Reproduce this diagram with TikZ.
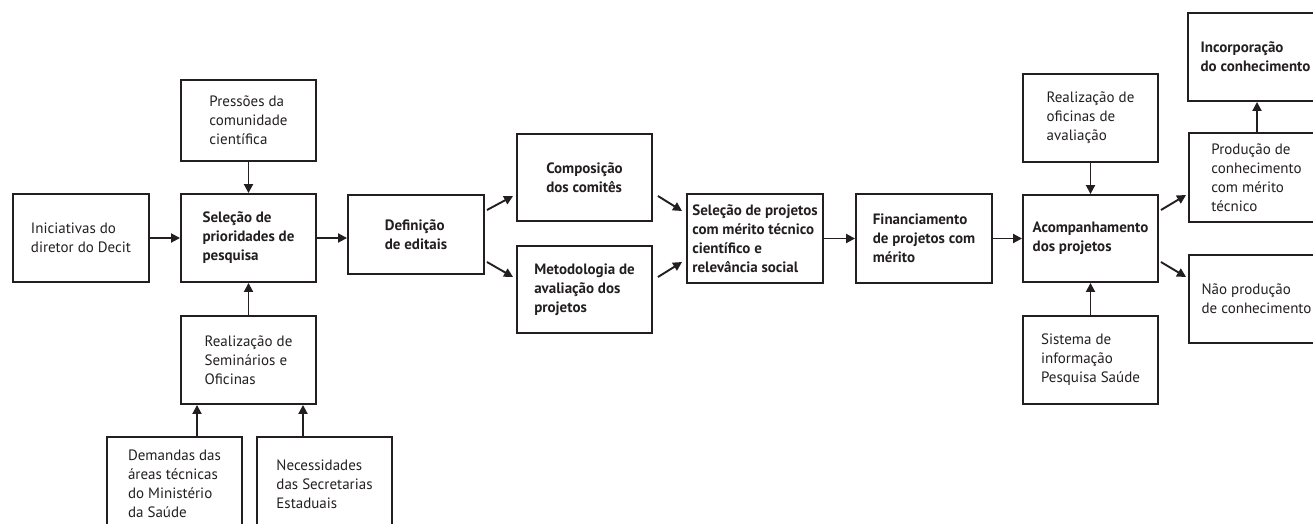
\documentclass[tikz,border=0pt]{standalone}
\usepackage{fontspec}
\setmainfont{PT Sans}
\usetikzlibrary{arrows.meta,calc}
\definecolor{ink}{HTML}{231F20}
\tikzset{
  box/.style={draw=ink, line width=1.9pt, minimum width=135pt, minimum height=88pt,
    align=left, inner sep=0pt, text=ink, font=\fontsize{15}{19}\selectfont},
  bbox/.style={box, font=\fontsize{15}{19}\selectfont\bfseries},
  arr/.style={draw=ink, line width=1.9pt, -{Triangle[length=9pt,width=9pt]}}
}
\begin{document}
\begin{tikzpicture}[x=1pt,y=-1pt]
\useasboundingbox (0,0) rectangle (1313,523);
\clip (0,0) rectangle (1313,523);
% left cluster
\node[box, minimum height=81pt] (pres) at (248.5,120.5) {Pressões da\\comunidade\\científica};
\node[box, minimum width=136pt] (inic) at (81,238) {Iniciativas do\\diretor do Decit};
\node[bbox] (selpri) at (248.5,238) {Seleção de\\prioridades de\\pesquisa};
\node[box] (real) at (248.5,360) {Realização de\\Seminários e\\Oficinas};
\node[box, minimum height=94pt] (dem) at (174.5,484) {Demandas das\\áreas técnicas\\do Ministério\\da Saúde};
\node[box, minimum height=94pt] (nec) at (324.5,484) {Necessidades\\das Secretarias\\Estaduais};
% middle
\node[bbox, minimum width=136pt, minimum height=79pt] (def) at (416,234.5) {Definição\\de editais};
\node[bbox, minimum height=87pt] (comp) at (584.5,177.5) {Composição\\dos comitês};
\node[bbox, minimum height=87pt] (met) at (584.5,289.5) {Metodologia de\\avaliação dos\\projetos};
\node[bbox, minimum width=136pt, minimum height=89pt] (selproj) at (755,238.5) {Seleção de projetos\\com mérito técnico\\científico e\\relevância social};
\node[bbox, minimum width=136pt, minimum height=89pt] (fin) at (924,238.5) {Financiamento\\de projetos com\\mérito};
% right
\node[bbox, minimum height=87pt] (acomp) at (1090.5,238.5) {Acompanhamento\\dos projetos};
\node[box] (reof) at (1090.5,118) {Realização de\\oficinas de\\avaliação};
\node[box] (sis) at (1090.5,360) {Sistema de\\informação\\Pesquisa Saúde};
\node[bbox] (inc) at (1255.5,57) {Incorporação\\do conhecimento};
\node[box, minimum height=89pt] (prod) at (1256.5,177.5) {Produção de\\conhecimento\\com mérito\\técnico};
\node[box] (nao) at (1256.5,299) {Não produção\\de conhecimento};
% connectors
\draw[arr] (pres) -- (selpri);
\draw[arr] (inic) -- (selpri);
\draw[arr] (real) -- (selpri);
\draw[arr] (dem.north -| 197,0) -- (real.south -| 197,0);
\draw[arr] (nec.north -| 303,0) -- (real.south -| 303,0);
\draw[arr] (selpri.east) -- (selpri.east -| def.west);
\draw[arr] ($(def.east)+(2,-24.5)$) -- ($(comp.west)+(-3,18.5)$);
\draw[arr] ($(def.east)+(2,27.5)$) -- ($(met.west)+(-3,-12.5)$);
\draw[arr] ($(comp.east)+(5,18.5)$) -- ($(selproj.west)+(-4,-27.5)$);
\draw[arr] ($(met.east)+(5,-12.5)$) -- ($(selproj.west)+(-4,23.5)$);
\draw[arr] (selproj.east) -- (selproj.east -| fin.west);
\draw[arr] (fin.east) -- (fin.east -| acomp.west);
\draw[arr] (reof) -- (acomp);
\draw[arr] (sis) -- (acomp);
\draw[arr] ($(acomp.east)+(2,-28.5)$) -- ($(prod.west)+(-2,17.5)$);
\draw[arr] ($(acomp.east)+(2,23.5)$) -- ($(nao.west)+(-2,-22)$);
\draw[arr] (prod.north -| 1257,0) -- (inc.south -| 1257,0);
\end{tikzpicture}
\end{document}
